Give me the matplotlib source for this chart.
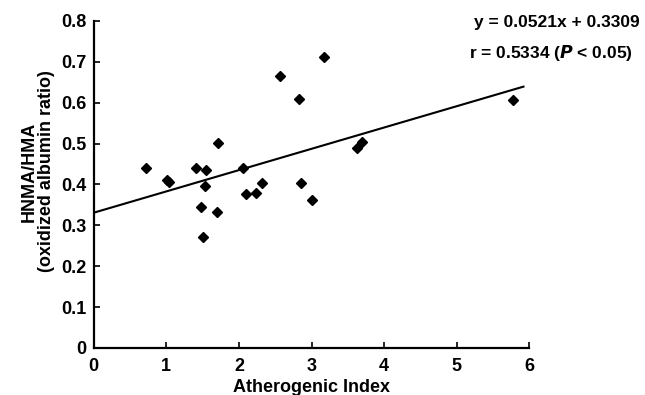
import matplotlib
matplotlib.use("Agg")
import matplotlib.pyplot as plt
import numpy as np

plt.rcParams['font.family'] = ['Liberation Sans', 'DejaVu Sans']
plt.rcParams['font.weight'] = 'bold'

# data
atherogenic_index = [0.72, 1.01, 1.04, 1.41, 1.55, 1.53, 1.71, 2.05, 2.10, 2.23,
                     2.32, 2.57, 2.83, 2.85, 3.17, 3.62, 3.70, 3.00, 1.48, 1.70,
                     1.51, 5.77]
ox_ratio = [0.441, 0.410, 0.405, 0.441, 0.435, 0.396, 0.502, 0.441, 0.376, 0.378,
            0.403, 0.665, 0.608, 0.403, 0.711, 0.490, 0.504, 0.361, 0.345, 0.333,
            0.271, 0.606]
slope = 0.0521
intercept = 0.3309
fit_x = [0.0, 5.92]
x_ticks = [0, 1, 2, 3, 4, 5, 6]
y_ticks = [0, 0.1, 0.2, 0.3, 0.4, 0.5, 0.6, 0.7, 0.8]
y_tick_labels = ["0", "0.1", "0.2", "0.3", "0.4", "0.5", "0.6", "0.7", "0.8"]

fig = plt.figure(figsize=(6.45, 3.95), dpi=100)
ax = fig.add_axes([0.1453, 0.119, 0.6753, 0.828])

fx = np.array(fit_x)
ax.plot(fx, slope * fx + intercept, color='black', lw=1.5, zorder=2)
ax.plot(atherogenic_index, ox_ratio, linestyle='none', marker='D', markersize=4.8,
        color='black', zorder=3)

ax.set_xlim(0, 6)
ax.set_ylim(0, 0.8)
ax.set_xticks(x_ticks)
ax.set_xticklabels([str(t) for t in x_ticks])
ax.set_yticks(y_ticks)
ax.set_yticklabels(y_tick_labels)
for s in ['top', 'right']:
    ax.spines[s].set_visible(False)
for s in ['left', 'bottom']:
    ax.spines[s].set_linewidth(1.6)
ax.tick_params(direction='in', length=4, width=1.2, labelsize=13)
ax.tick_params(axis='x', pad=7)
ax.tick_params(axis='y', pad=5)
for lab in ax.get_xticklabels() + ax.get_yticklabels():
    lab.set_fontweight('bold')

ax.set_xlabel("Atherogenic Index", fontsize=13, fontweight='bold', labelpad=3)
ax.set_ylabel("HNMA/HMA\n(oxidized albumin ratio)", fontsize=13, fontweight='bold',
              linespacing=1.05)
ax.yaxis.set_label_coords(-0.088, 0.54)

fig.text(0.992, 0.942, "y = 0.0521x + 0.3309", ha='right', va='center',
         fontsize=12.5, fontweight='bold')
fig.text(0.727, 0.866, r"r = 0.5334 ($\mathbf{\mathit{P}}$ < 0.05)", ha='left', va='center',
         fontsize=12.5, fontweight='bold')

fig.savefig("out.png", dpi=100)
